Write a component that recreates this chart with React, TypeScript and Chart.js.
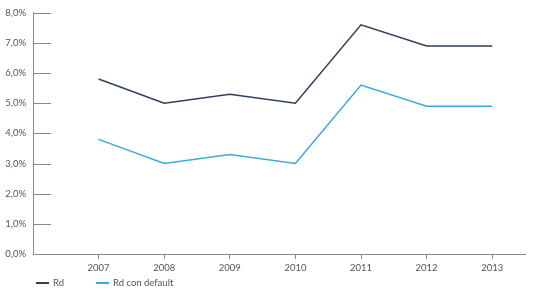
import React, { useEffect, useRef } from "react";
import { Chart, registerables } from "chart.js";

Chart.register(...registerables);

const years = [2007, 2008, 2009, 2010, 2011, 2012, 2013];
const rdValues = [5.8, 5.0, 5.3, 5.0, 7.6, 6.9, 6.9];
const rdDefaultValues = [3.8, 3.0, 3.3, 3.0, 5.6, 4.9, 4.9];
const seriesNames = ["Rd", "Rd con default"];
const seriesColors = ["#2e3f5c", "#3aaad6"];

const FONT = "Lato, 'Open Sans', sans-serif";
const AXIS = "#8a8a8a";
const TEXT = "#555555";

const innerTicks = {
  id: "innerTicks",
  afterDraw(chart: any) {
    const y = chart.scales.y;
    const { ctx, chartArea } = chart;
    ctx.save();
    ctx.strokeStyle = AXIS;
    ctx.lineWidth = 1;
    y.ticks.forEach((t: any) => {
      const py = Math.round(y.getPixelForValue(t.value)) + 0.5;
      ctx.beginPath();
      ctx.moveTo(chartArea.left, py);
      ctx.lineTo(chartArea.left + 18, py);
      ctx.stroke();
    });
    ctx.restore();
  },
};

export default function App() {
  const ref = useRef<HTMLCanvasElement>(null);
  useEffect(() => {
    document.body.style.margin = "0";
    const chart = new Chart(ref.current!, {
      type: "line",
      data: {
        datasets: [
          {
            label: seriesNames[0],
            data: years.map((x, i) => ({ x, y: rdValues[i] })),
            borderColor: seriesColors[0],
            backgroundColor: seriesColors[0],
            borderWidth: 1.5,
            pointRadius: 0,
            tension: 0,
          },
          {
            label: seriesNames[1],
            data: years.map((x, i) => ({ x, y: rdDefaultValues[i] })),
            borderColor: seriesColors[1],
            backgroundColor: seriesColors[1],
            borderWidth: 1.5,
            pointRadius: 0,
            tension: 0,
          },
        ],
      },
      options: {
        animation: false,
        responsive: false,
        layout: { padding: { top: 12, right: 8, left: 0, bottom: 0 } },
        plugins: { legend: { display: false }, tooltip: { enabled: false } },
        scales: {
          x: {
            type: "linear",
            min: 2006,
            max: 2013.5,
            afterBuildTicks: (s: any) => {
              s.ticks = years.map((v) => ({ value: v }));
            },
            afterFit: (s: any) => {
              s.height = 40;
            },
            ticks: {
              stepSize: 1,
              autoSkip: false,
              maxRotation: 0,
              padding: 3,
              color: TEXT,
              font: { family: FONT, size: 9.5 },
              callback: (v: any) => String(v),
            },
            grid: { drawOnChartArea: false, drawTicks: true, tickLength: 5, color: AXIS },
            border: { display: true, color: AXIS },
          },
          y: {
            min: 0,
            max: 8,
            afterFit: (s: any) => {
              s.width = 33;
            },
            ticks: {
              stepSize: 1,
              padding: 7,
              color: TEXT,
              font: { family: FONT, size: 9.5 },
              callback: (v: any) => Number(v).toFixed(1).replace(".", ",") + "%",
            },
            grid: { drawOnChartArea: false, drawTicks: false },
            border: { display: true, color: AXIS },
          },
        },
      },
      plugins: [innerTicks],
    });
    return () => chart.destroy();
  }, []);

  return (
    <div style={{ position: "relative", width: 533, height: 294 }}>
      <canvas ref={ref} width={533} height={294} style={{ display: "block" }} />
      {seriesNames.map((n, i) => (
        <div
          key={n}
          style={{
            position: "absolute",
            top: 277,
            left: i === 0 ? 36 : 96,
            display: "flex",
            alignItems: "center",
            fontFamily: FONT,
            fontSize: 9.5,
            color: TEXT,
            whiteSpace: "nowrap",
          }}
        >
          <span style={{ display: "inline-block", width: 13, height: 2, background: seriesColors[i], marginRight: 4 }} />
          {n}
        </div>
      ))}
    </div>
  );
}
